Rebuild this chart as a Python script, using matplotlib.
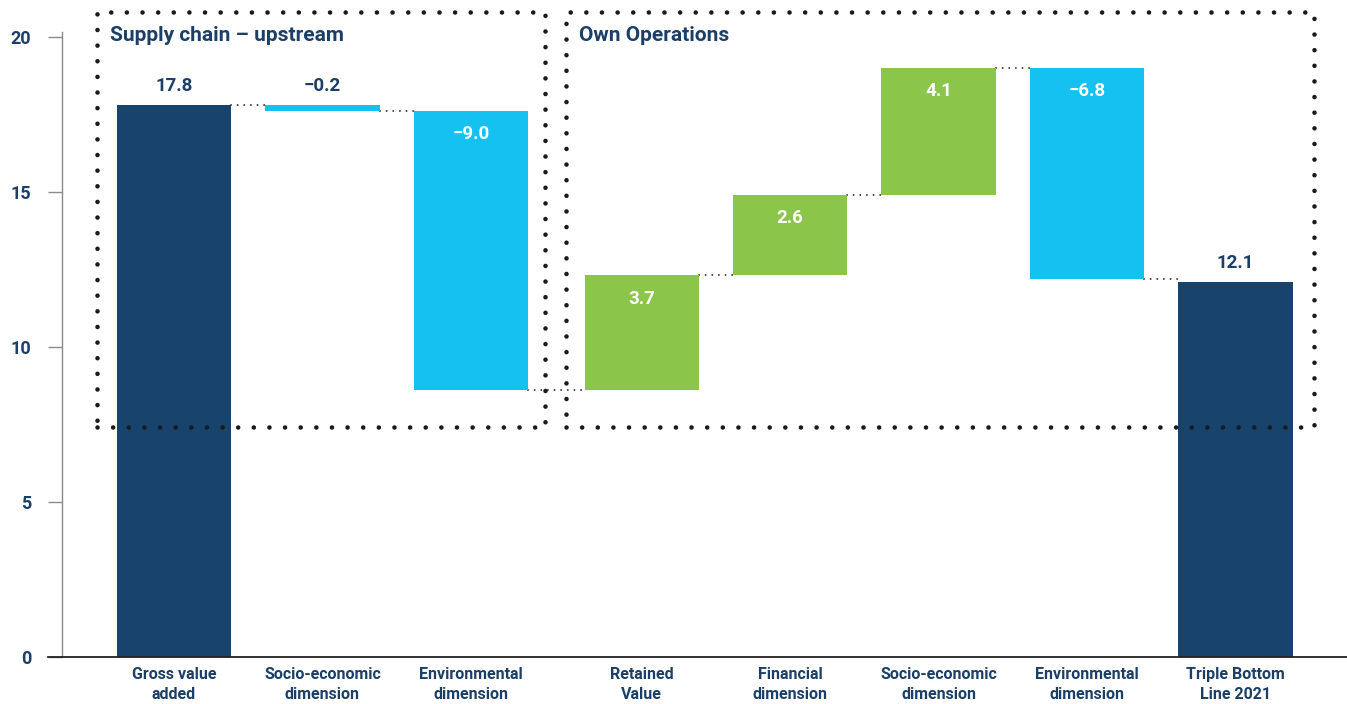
import matplotlib
matplotlib.use("Agg")
import matplotlib.pyplot as plt

# Waterfall: supply chain and own operations contributions to the triple bottom line
categories = ["Gross value\nadded", "Socio-economic\ndimension", "Environmental\ndimension",
              "Retained\nValue", "Financial\ndimension", "Socio-economic\ndimension",
              "Environmental\ndimension", "Triple Bottom\nLine 2021"]
values = [17.8, -0.2, -9.0, 3.7, 2.6, 4.1, -6.8, 12.1]
is_total = [True, False, False, False, False, False, False, True]
section_titles = ["Supply chain \u2013 upstream", "Own Operations"]

NAVY = "#18436C"
TEXT = "#1B3F66"
BLUE = "#14C1F1"
GREEN = "#8BC64A"

plt.rcParams["font.family"] = ["Roboto", "DejaVu Sans"]
plt.rcParams["font.weight"] = "bold"

fig = plt.figure(figsize=(13.47, 7.04), dpi=100)
ax = fig.add_axes([62 / 1347, 47 / 704, 1 - 62 / 1347, 625 / 704])

# x positions, with a wider gap between the two sections
xs = [i + (0.15 if i >= 3 else 0) for i in range(len(values))]
width = 0.77

running = 0
bottoms, tops, levels = [], [], []
for v, tot in zip(values, is_total):
    if tot:
        b, t = 0, v
        running = v
    else:
        b, t = min(running, running + v), max(running, running + v)
        running += v
    bottoms.append(b)
    tops.append(t)
    levels.append(running)

for i, (x, v, b, t, tot) in enumerate(zip(xs, values, bottoms, tops, is_total)):
    color = NAVY if tot else (GREEN if v > 0 else BLUE)
    ax.bar(x, t - b, bottom=b, width=width, color=color, zorder=2)
    label = f"{v:.1f}".replace("-", "\u2212")
    if tot or abs(v) < 1:
        ax.text(x, t + 0.6, label, ha="center", va="center", color=TEXT,
                fontsize=13.5, fontweight="bold")
    else:
        ax.text(x, t - 0.75, label, ha="center", va="center", color="white",
                fontsize=13.5, fontweight="bold")

# dotted connectors between neighbouring bars
for i in range(len(values) - 1):
    ax.plot([xs[i] + width / 2, xs[i + 1] - width / 2], [levels[i], levels[i]],
            color="#333333", lw=1.4, linestyle=(0, (0.01, 3.4)),
            dash_capstyle="round", zorder=1)

# dotted section frames
frame_style = dict(color="#1a1a1a", lw=3.3, linestyle=(0, (0.01, 3.4)),
                   dash_capstyle="round", clip_on=False, zorder=3)
y_lo, y_hi = 7.4, 20.8
for x0, x1 in [(-0.52, 2.5), (2.64, 7.68)]:
    ax.plot([x0, x1, x1, x0, x0], [y_lo, y_lo, y_hi, y_hi, y_lo], **frame_style)

ax.text(-0.43, 20.05, section_titles[0], ha="left", va="center", color=TEXT,
        fontsize=15, fontweight="bold")
ax.text(2.73, 20.05, section_titles[1], ha="left", va="center", color=TEXT,
        fontsize=15, fontweight="bold")

ax.set_xlim(-0.754, 7.9)
ax.set_ylim(0, 20.15)
ax.set_yticks([0, 5, 10, 15, 20])
ax.set_xticks(xs)
ax.set_xticklabels(categories, color=TEXT, fontsize=11.5, fontweight="bold",
                   linespacing=1.45)
ax.tick_params(axis="x", length=0, pad=7)
ax.tick_params(axis="y", direction="out", length=10, width=1, color="#8a8a8a",
               pad=12, labelcolor=TEXT, labelsize=13)
for lab in ax.get_yticklabels():
    lab.set_fontweight("bold")

for side in ["top", "right", "bottom"]:
    ax.spines[side].set_visible(False)
ax.spines["left"].set_color("#8a8a8a")
ax.spines["left"].set_linewidth(1)
ax.axhline(0, xmin=-14 / 1285, xmax=1, color="#222222", lw=1.3, clip_on=False, zorder=4)

fig.savefig("out.png", dpi=100)
